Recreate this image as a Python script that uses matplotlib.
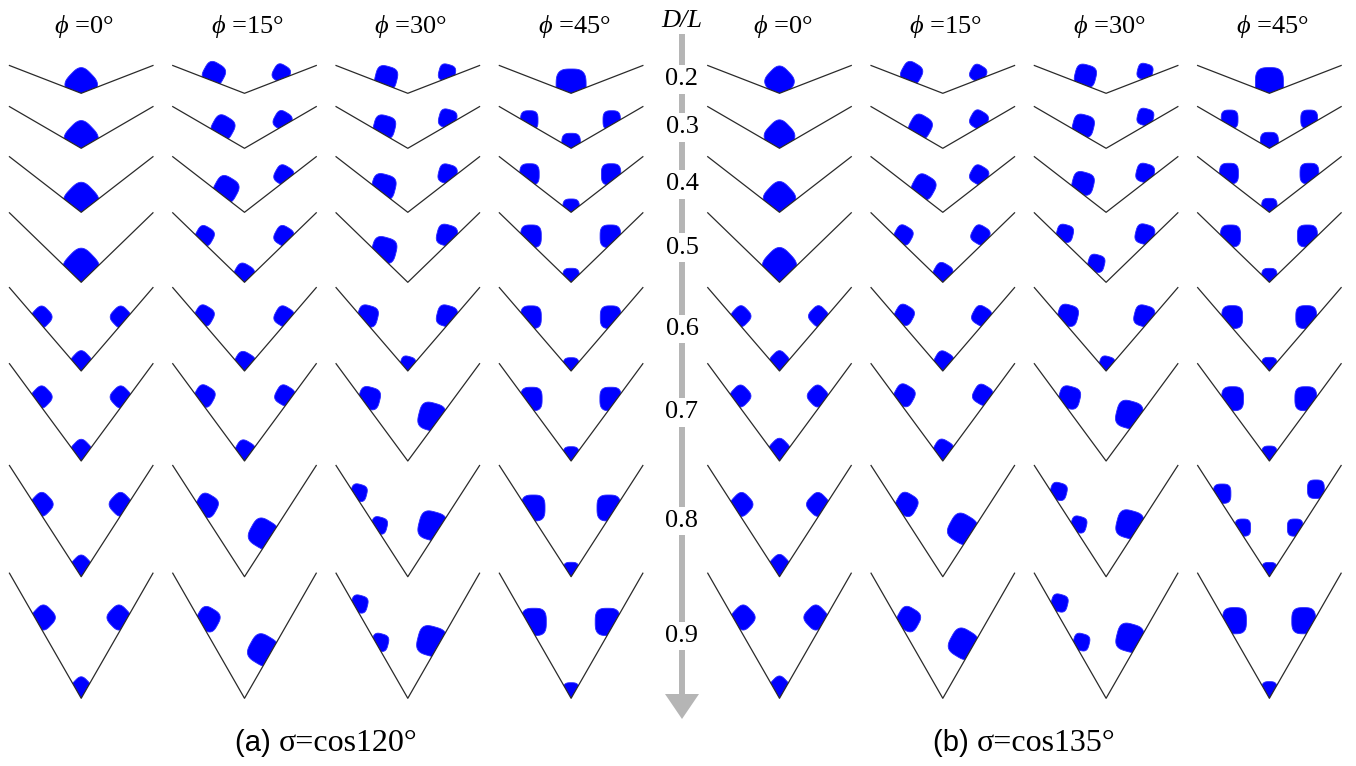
import numpy as np
import matplotlib
matplotlib.use("Agg")
import matplotlib.pyplot as plt
from matplotlib.patches import Polygon

plt.rcParams['mathtext.fontset'] = 'custom'
plt.rcParams['mathtext.rm'] = 'Liberation Serif'
plt.rcParams['mathtext.it'] = 'Liberation Serif:italic'

# ---------------------------------------------------------------- data
PHI_DEG = [0, 15, 30, 45]
D_OVER_L = [0.2, 0.3, 0.4, 0.5, 0.6, 0.7, 0.8, 0.9]
PANEL_TAGS = ["(a) ", "(b) "]
PANEL_SIGMA = ["σ=cos120°", "σ=cos135°"]

# Droplets per groove: (dx, dy, size) measured from the groove apex
# (dy upwards), in the same units as the groove opening width GROOVE_W.
DROPS_A = [
    [[(0, 8.6, 14.3)],
     [(-30.6, 19.6, 10.5), (36.8, 19.8, 8.3)],
     [(-21.6, 15.6, 10.9), (39.2, 20.3, 8.2)],
     [(0, 7.8, 15.0)]],
    [[(0, 9.8, 15.0)],
     [(-21.5, 20.9, 10.8), (38.1, 27.7, 8.6)],
     [(-23.4, 21.5, 10.7), (39.9, 29.6, 8.8)],
     [(-41.8, 28.0, 8.7), (40.6, 28.0, 8.7), (0, 4.8, 9.3)]],
    [[(0, 11.4, 15.6)],
     [(-18.5, 23.1, 11.7), (39.3, 37.0, 9.0)],
     [(-24.2, 25.6, 11.8), (39.8, 38.3, 9.1)],
     [(-41.6, 37.9, 9.7), (40.0, 37.9, 9.7), (0, 4.2, 8.3)]],
    [[(0, 15.0, 16.0)],
     [(-39.8, 46.6, 8.7), (39.3, 46.3, 9.0), (-0.6, 8.0, 9.6)],
     [(-23.7, 32.3, 12.1), (39.1, 47.0, 10.0)],
     [(-40.1, 46.0, 10.3), (39.3, 46.0, 10.3), (0, 4.9, 8.3)]],
    [[(-39.6, 54.0, 9.2), (39.5, 54.0, 9.2), (0, 9.1, 9.4)],
     [(-40.3, 55.5, 9.1), (39.5, 54.5, 9.1), (0, 8.0, 9.9)],
     [(-40.0, 55.0, 10.0), (39.1, 55.0, 10.0), (0, 6.7, 7.5)],
     [(-40.1, 53.8, 10.3), (39.5, 53.8, 10.3), (0, 4.5, 8.0)]],
    [[(-39.6, 64.0, 9.3), (39.5, 64.0, 9.3), (0, 10.5, 9.4)],
     [(-40.0, 65.0, 9.6), (40.3, 65.5, 9.1), (0.3, 10.0, 9.5)],
     [(-38.4, 62.8, 10.5), (24.0, 44.2, 13.2)],
     [(-39.7, 62.0, 10.7), (39.5, 62.0, 10.7), (0, 5.5, 8.0)]],
    [[(-39.4, 72.4, 10.0), (39.3, 72.4, 10.0), (0, 10.7, 9.2)],
     [(-37.7, 71.4, 10.4), (18.8, 42.9, 13.5)],
     [(-49.0, 84.0, 8.0), (-28.6, 51.3, 7.9), (24.5, 50.7, 13.6)],
     [(-37.9, 68.7, 11.8), (37.7, 68.7, 11.8), (0, 5.6, 8.0)]],
    [[(-37.8, 80.8, 10.5), (37.7, 80.8, 10.5), (0, 11.0, 8.8)],
     [(-36.5, 79.1, 10.9), (18.5, 48.3, 13.9)],
     [(-48.4, 94.3, 8.2), (-27.7, 56.0, 8.2), (23.7, 57.1, 14.0)],
     [(-37.2, 76.4, 12.4), (36.5, 76.4, 12.4), (0, 6.8, 8.0)]],
]

DROPS_B = [
    [[(0, 11.8, 13.0)],
     [(-31.2, 20.2, 10.0), (35.4, 20.0, 7.8)],
     [(-20.7, 17.5, 10.5), (38.9, 21.6, 7.6)],
     [(0, 10.3, 14.0)]],
    [[(0, 12.3, 13.5)],
     [(-22.3, 21.7, 10.7), (36.2, 28.5, 8.5)],
     [(-22.8, 22.5, 10.5), (39.3, 31.2, 8.0)],
     [(-39.8, 29.0, 8.4), (39.8, 29.0, 8.4), (0, 6.1, 9.0)]],
    [[(0, 13.7, 14.3)],
     [(-19.1, 25.5, 11.1), (36.4, 37.3, 8.7)],
     [(-23.1, 28.9, 10.7), (39.1, 39.2, 8.9)],
     [(-40.4, 38.7, 9.4), (40.0, 38.7, 9.4), (0, 5.5, 7.7)]],
    [[(0, 16.9, 15.0)],
     [(-39.3, 47.3, 8.7), (37.6, 47.3, 8.7), (0, 9.2, 9.1)],
     [(-41.2, 49.0, 8.2), (-9.8, 19.0, 8.2), (38.8, 48.0, 9.4)],
     [(-38.9, 46.3, 10.0), (38.0, 46.3, 10.0), (0, 5.5, 7.7)]],
    [[(-38.5, 54.8, 8.8), (39.0, 54.8, 8.8), (0, 9.8, 8.8)],
     [(-38.5, 56.2, 9.1), (38.8, 55.0, 9.0), (0.8, 9.5, 9.1)],
     [(-38.2, 55.7, 10.0), (38.2, 55.0, 10.0), (0.8, 6.6, 7.6)],
     [(-37.2, 53.9, 10.4), (36.8, 53.9, 10.4), (0, 5.2, 7.7)]],
    [[(-39.0, 65.0, 9.2), (38.2, 65.0, 9.2), (0, 11.4, 9.5)],
     [(-38.5, 65.7, 9.8), (39.8, 66.2, 9.1), (0.4, 10.8, 9.5)],
     [(-36.6, 63.5, 10.5), (23.2, 46.3, 13.0)],
     [(-36.8, 62.3, 10.9), (36.4, 62.3, 10.9), (0, 6.5, 7.7)]],
    [[(-37.9, 72.3, 10.0), (38.4, 72.3, 10.0), (0, 11.3, 9.2)],
     [(-36.3, 72.3, 10.4), (19.7, 47.8, 13.5)],
     [(-47.5, 85.3, 8.2), (-27.3, 52.2, 7.7), (23.7, 52.2, 13.2)],
     [(-47.3, 83.0, 8.8), (46.5, 87.5, 8.4), (-26.6, 49.1, 7.8),
      (25.8, 49.1, 7.8), (0, 5.8, 7.7)]],
    [[(-36.3, 80.8, 10.5), (36.3, 80.8, 10.5), (0, 11.8, 8.8)],
     [(-34.3, 79.2, 10.9), (20.5, 54.5, 13.5)],
     [(-46.6, 95.3, 8.2), (-24.7, 56.2, 8.0), (23.7, 60.5, 13.2)],
     [(-34.9, 77.6, 11.9), (34.3, 77.6, 11.9), (0, 8.2, 7.7)]],
]
PANEL_DROPS = [DROPS_A, DROPS_B]

# ---------------------------------------------------------------- layout
FIG_W, FIG_H = 1356, 766
GROOVE_W = 143.5          # opening width of one groove
DEPTH_PER_DL = 139.0      # groove depth for D/L = 1
COL_PITCH = 163.3
PANEL_APEX_X0 = [81.2, 779.5]
ROW_APEX_Y = [93.3, 148.3, 212.3, 282.3, 371.0, 461.0, 576.7, 698.3]
ARROW_X = 682.0
TITLE_BASE_Y = 33.5
CAPTION_BASE_Y = 751.0

SERIF = 'Liberation Serif'
SANS = 'Liberation Sans'
DROP_COLOR = '#0000ff'
WALL_COLOR = '#2a2a2a'
ARROW_COLOR = '#b5b5b5'
FS = 19

fig = plt.figure(figsize=(FIG_W / 100, FIG_H / 100), dpi=100)
ax = fig.add_axes([0, 0, 1, 1])
ax.set_xlim(0, FIG_W)
ax.set_ylim(FIG_H, 0)
ax.axis('off')


def drop_outline(cx, cy, size, phi, n=3.2, m=240):
    """Rounded-square droplet footprint, turned by the pattern angle."""
    t = np.linspace(0, 2 * np.pi, m, endpoint=False)
    c, s = np.cos(t), np.sin(t)
    x = size * np.sign(c) * np.abs(c) ** (2 / n)
    y = size * np.sign(s) * np.abs(s) ** (2 / n)
    a = np.deg2rad(-(45 - phi))
    xr = x * np.cos(a) - y * np.sin(a)
    yr = x * np.sin(a) + y * np.cos(a)
    stretch = 1.1 if phi == 45 else 1.05
    return np.column_stack([cx + xr, cy - yr * stretch])


for p, drops in enumerate(PANEL_DROPS):
    for i, dl in enumerate(D_OVER_L):
        apex_y = ROW_APEX_Y[i]
        depth = dl * DEPTH_PER_DL
        top_y = apex_y - depth
        for j, phi in enumerate(PHI_DEG):
            apex_x = PANEL_APEX_X0[p] + j * COL_PITCH
            hw = GROOVE_W / 2
            # groove interior used to clip the droplets on the walls
            interior = Polygon([(apex_x - hw, top_y - 80), (apex_x - hw, top_y),
                                (apex_x, apex_y), (apex_x + hw, top_y),
                                (apex_x + hw, top_y - 80)],
                               closed=True, transform=ax.transData)
            for dx, dy, size in drops[i][j]:
                pts = drop_outline(apex_x + dx, apex_y - dy, size, phi)
                patch = Polygon(pts, closed=True, facecolor=DROP_COLOR,
                                edgecolor='#2a2aff', linewidth=0.6,
                                zorder=2)
                ax.add_patch(patch)
                patch.set_clip_path(interior)
            ax.plot([apex_x - hw, apex_x, apex_x + hw], [top_y, apex_y, top_y],
                    color=WALL_COLOR, lw=0.9, solid_joinstyle='round',
                    zorder=3)

# column headings
for p in range(2):
    for j, phi in enumerate(PHI_DEG):
        x = PANEL_APEX_X0[p] + j * COL_PITCH + 3
        ax.text(x, TITLE_BASE_Y, r'$\phi$' + f' ={phi}°', ha='center',
                va='baseline', fontsize=FS, family=SERIF)

# D/L axis: grey arrow with the ratio labels
ax.text(ARROW_X, 27, 'D/L', ha='center', va='baseline', fontsize=FS,
        family=SERIF, style='italic')
ax.plot([ARROW_X, ARROW_X], [34, 697], color=ARROW_COLOR, lw=4.3,
        solid_capstyle='butt', zorder=1)
ax.add_patch(Polygon([(ARROW_X - 17, 694), (ARROW_X + 17, 694),
                      (ARROW_X, 719)], closed=True, facecolor=ARROW_COLOR,
                     edgecolor='none', zorder=1))
for i, dl in enumerate(D_OVER_L):
    yc = ROW_APEX_Y[i] - dl * DEPTH_PER_DL / 2
    ax.text(ARROW_X, yc, f'{dl:.1f}', ha='center', va='center', fontsize=FS,
            family=SERIF, zorder=4,
            bbox=dict(boxstyle='square,pad=0.12', facecolor='white',
                      edgecolor='none'))

# panel captions: tag in sans, formula in serif, centred together
renderer = fig.canvas.get_renderer()
for p in range(2):
    centre = PANEL_APEX_X0[p] + 1.5 * COL_PITCH
    t1 = ax.text(0, CAPTION_BASE_Y, PANEL_TAGS[p], ha='left', va='baseline',
                 fontsize=FS + 2, family=SANS)
    t2 = ax.text(0, CAPTION_BASE_Y, PANEL_SIGMA[p], ha='left', va='baseline',
                 fontsize=FS + 4, family=SERIF)
    w1 = t1.get_window_extent(renderer).width
    w2 = t2.get_window_extent(renderer).width
    x0 = centre - (w1 + w2) / 2
    t1.set_x(x0)
    t2.set_x(x0 + w1)

fig.savefig('out.png', dpi=100)
